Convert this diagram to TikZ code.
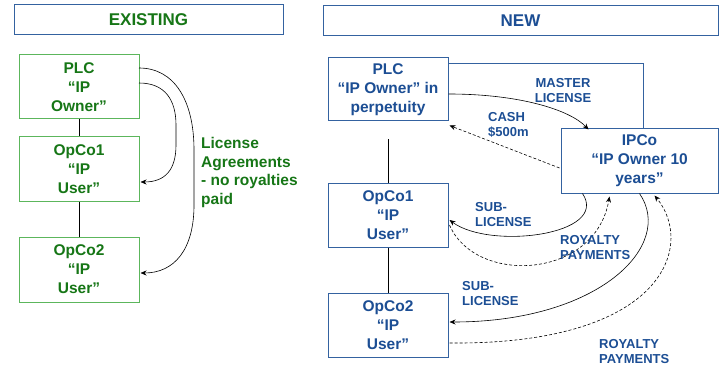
\documentclass[tikz,border=0pt]{standalone}
\usepackage{fontspec}
\setmainfont{Liberation Sans}
\usetikzlibrary{arrows.meta,calc}
\definecolor{blueT}{RGB}{28,78,148}
\definecolor{blueB}{RGB}{52,98,160}
\definecolor{greenT}{RGB}{22,118,22}
\definecolor{greenB}{RGB}{92,182,92}
\tikzset{
  hdr/.style={draw=blueB,line width=1pt,fill=white,minimum width=#1,minimum height=30pt,inner sep=0pt,font=\fontsize{17}{19}\selectfont\bfseries},
  gbox/.style={draw=greenB,line width=1pt,fill=white,minimum width=120pt,minimum height=64pt,inner sep=0pt,align=center,text=greenT,font=\fontsize{15.5}{19}\selectfont\bfseries},
  bbox/.style={draw=blueB,line width=1pt,fill=white,minimum width=120pt,minimum height=64pt,inner sep=0pt,align=center,text=blueT,font=\fontsize{15.5}{19}\selectfont\bfseries},
  lbl/.style={text=blueT,align=left,inner sep=0pt,font=\fontsize{13}{15}\selectfont\bfseries},
  glbl/.style={text=greenT,align=left,inner sep=0pt,font=\fontsize{15.5}{18.5}\selectfont\bfseries},
  conn/.style={draw=black,line width=0.6pt},
  arr/.style={conn,-{Stealth[length=6pt,width=5pt]}},
  darr/.style={arr,dashed,dash pattern=on 3pt off 2pt},
}
\begin{document}
\begin{tikzpicture}[x=1pt,y=-1pt]
\useasboundingbox (0,0) rectangle (719,366);
% ---------- EXISTING ----------
\node[hdr=269pt,text=greenT] (hA) at (148.5,20) {EXISTING};
\node[gbox] (plcA) at (79,87) {PLC\\“IP\\Owner”};
\node[gbox] (op1A) at (79,169) {OpCo1\\“IP\\User”};
\node[gbox,minimum height=65pt] (op2A) at (79,269.5) {OpCo2\\“IP\\User”};
\draw[conn] (plcA.south) -- (op1A.north);
\draw[conn] (op1A.south) -- (op2A.north);
\coordinate (a1) at (139,68);
\coordinate (a2) at (139,83);
\draw[arr] (a1) .. controls (174,68) and (194,100) .. (194,150) -- (194,205)
  .. controls (194,250) and (174,273) .. ($(op2A.east)+(1,3.5)$);
\draw[arr] (a2) .. controls (165,83) and (176,100) .. (176,125) -- (176,145)
  .. controls (176,170) and (165,182) .. ($(op1A.east)+(1,13)$);
\node[glbl,anchor=west] (lic) at (201,172.5) {License\\Agreements\\- no royalties\\paid};
% ---------- NEW ----------
\node[hdr=395pt,text=blueT] (hB) at (520.5,21) {NEW};
\draw[blueB,line width=1pt] (448,64) -- (643,64) -- (643,132);
\node[bbox,minimum height=63pt] (plcB) at (388,89.5) {PLC\\“IP Owner” in\\perpetuity};
\node[bbox,minimum width=157pt] (ipco) at (639.5,161) {IPCo\\“IP Owner 10\\years”};
\node[bbox] (op1B) at (388,215) {OpCo1\\“IP\\User”};
\node[bbox] (op2B) at (388,325) {OpCo2\\“IP\\User”};
\coordinate (lt) at ($(plcB.south)+(0,18)$);
\draw[conn] (lt) -- (op1B.north);
\draw[conn] (op1B.south) -- (op2B.north);
% master license
\draw[arr] ($(plcB.east)+(0,4.5)$) .. controls (520,94) and (570,110) .. ($(ipco.north west)+(28,1)$);
% cash
\draw[darr] ($(ipco.west)+(-1,7)$) -- ($(plcB.south east)+(1,4)$);
% sub-license 1
\draw[arr] ($(ipco.south west)+(22,0)$) .. controls (610,235) and (490,250) .. ($(op1B.east)+(1,5)$);
% royalty 1
\draw[darr] ($(op1B.east)+(1,10)$) .. controls (475,285) and (595,280) .. ($(ipco.south west)+(49,3)$);
% sub-license 2
\draw[arr] ($(ipco.south west)+(79,0)$) .. controls (675,245) and (600,322) .. ($(op2B.east)+(1,-3)$);
% royalty 2
\draw[darr] ($(op2B.east)+(1,18)$) .. controls (665,345) and (695,245) .. ($(ipco.south west)+(94,2)$);
% labels
\node[lbl,align=center] (ml) at (563,90.5) {MASTER\\LICENSE};
\node[lbl,anchor=west] (cash) at (488,125) {CASH\\\$500m};
\node[lbl,anchor=west] (sl1) at (475,215) {SUB-\\LICENSE};
\node[lbl,anchor=west] (rp1) at (560,248) {ROYALTY\\PAYMENTS};
\node[lbl,anchor=west] (sl2) at (462,294) {SUB-\\LICENSE};
\node[lbl,anchor=west] (rp2) at (599,352) {ROYALTY\\PAYMENTS};
\end{tikzpicture}
\end{document}
